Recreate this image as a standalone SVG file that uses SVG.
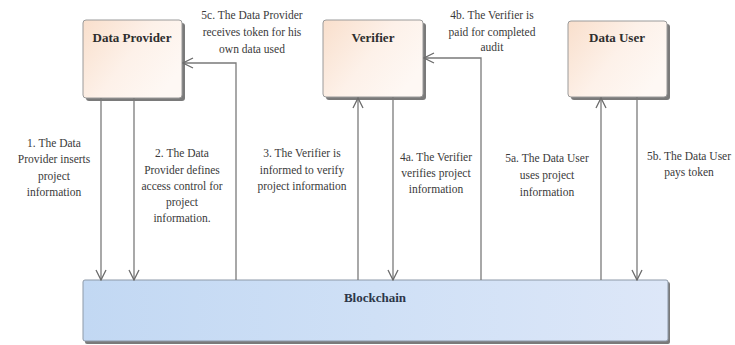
<svg xmlns="http://www.w3.org/2000/svg" width="735" height="345" viewBox="0 0 735 345" font-family="'Liberation Serif', 'Times New Roman', 'DejaVu Serif', serif">
  <defs>
    <linearGradient id="actorFill" x1="0" y1="0" x2="1" y2="0.6">
      <stop offset="0" stop-color="#f9dfcc"/>
      <stop offset="0.55" stop-color="#fdf1e9"/>
      <stop offset="1" stop-color="#fef8f4"/>
    </linearGradient>
    <linearGradient id="chainFill" x1="0" y1="0" x2="1" y2="0">
      <stop offset="0" stop-color="#c2d8f3"/>
      <stop offset="0.5" stop-color="#cfe0f6"/>
      <stop offset="1" stop-color="#dde7f8"/>
    </linearGradient>
    <marker id="arrow" viewBox="0 0 12 12" refX="11" refY="6" markerWidth="12" markerHeight="12" markerUnits="userSpaceOnUse" orient="auto">
      <path d="M1,1 L11,6 L1,11" fill="none" stroke="#6b6b6b" stroke-width="1.3"/>
    </marker>
  </defs>
  <style>
    text { font-family: "Liberation Serif", "Times New Roman", "DejaVu Serif", serif; }
    .shadow { fill: #7a7a7a; }
    .actor { fill: url(#actorFill); stroke: #9a9a9a; stroke-width: 1; }
    .chain { fill: url(#chainFill); stroke: #8d99a8; stroke-width: 1; }
    .title { font-weight: bold; font-size: 13px; fill: #2e2e2e; text-anchor: middle; }
    .chainTitle { font-weight: bold; font-size: 13px; fill: #2c3648; text-anchor: middle; }
    .label { font-size: 11.5px; fill: #3a3a3a; text-anchor: middle; }
    .conn { fill: none; stroke: #7a7a7a; stroke-width: 1.3; }
    .arrowed { marker-end: url(#arrow); }
  </style>

  <rect width="735" height="345" fill="#ffffff"/>

  <!-- Actors -->
  <g id="data-provider">
    <rect class="shadow" x="86" y="23" width="99" height="78" rx="3"/>
    <rect class="actor" x="83" y="20" width="99" height="78" rx="3"/>
    <text class="title" x="132" y="42">Data Provider</text>
  </g>

  <g id="verifier">
    <rect class="shadow" x="326" y="23" width="100" height="77" rx="3"/>
    <rect class="actor" x="323" y="20" width="100" height="77" rx="3"/>
    <text class="title" x="373" y="42">Verifier</text>
  </g>

  <g id="data-user">
    <rect class="shadow" x="571" y="24" width="99" height="76" rx="3"/>
    <rect class="actor" x="568" y="21" width="99" height="76" rx="3"/>
    <text class="title" x="617" y="42">Data User</text>
  </g>

  <g id="blockchain">
    <rect class="shadow" x="85" y="282" width="585" height="62" rx="2"/>
    <rect class="chain" x="83" y="280" width="585" height="61" rx="2"/>
    <text class="chainTitle" x="375" y="302">Blockchain</text>
  </g>

  <!-- Connectors -->
  <g id="connectors">
    <line class="conn arrowed" x1="101" y1="98" x2="101" y2="280"/>
    <line class="conn arrowed" x1="134" y1="98" x2="134" y2="280"/>
    <polyline class="conn arrowed" points="236,280 236,63 183,63"/>
    <line class="conn arrowed" x1="358" y1="280" x2="358" y2="98"/>
    <line class="conn arrowed" x1="393" y1="97" x2="393" y2="280"/>
    <polyline class="conn arrowed" points="481,280 481,58 424,58"/>
    <line class="conn arrowed" x1="601" y1="280" x2="601" y2="98"/>
    <line class="conn arrowed" x1="637" y1="97" x2="637" y2="280"/>
  </g>

  <!-- Connector labels -->
  <g id="labels">
    <text class="label" x="54" y="147">1. The Data</text>
    <text class="label" x="54" y="163">Provider inserts</text>
    <text class="label" x="54" y="180">project</text>
    <text class="label" x="54" y="196">information</text>

    <text class="label" x="182" y="157">2. The Data</text>
    <text class="label" x="182" y="174">Provider defines</text>
    <text class="label" x="182" y="190">access control for</text>
    <text class="label" x="182" y="206">project</text>
    <text class="label" x="182" y="222">information.</text>

    <text class="label" x="252" y="19">5c. The Data Provider</text>
    <text class="label" x="252" y="36">receives token for his</text>
    <text class="label" x="252" y="53">own data used</text>

    <text class="label" x="302" y="157">3. The Verifier is</text>
    <text class="label" x="302" y="174">informed to verify</text>
    <text class="label" x="302" y="190">project information</text>

    <text class="label" x="436" y="161">4a. The Verifier</text>
    <text class="label" x="436" y="177">verifies project</text>
    <text class="label" x="436" y="193">information</text>

    <text class="label" x="492" y="19">4b. The Verifier is</text>
    <text class="label" x="492" y="36">paid for completed</text>
    <text class="label" x="492" y="51">audit</text>

    <text class="label" x="547" y="162">5a. The Data User</text>
    <text class="label" x="547" y="179">uses project</text>
    <text class="label" x="547" y="196">information</text>

    <text class="label" x="689" y="160">5b. The Data User</text>
    <text class="label" x="689" y="176">pays token</text>
  </g>
</svg>
